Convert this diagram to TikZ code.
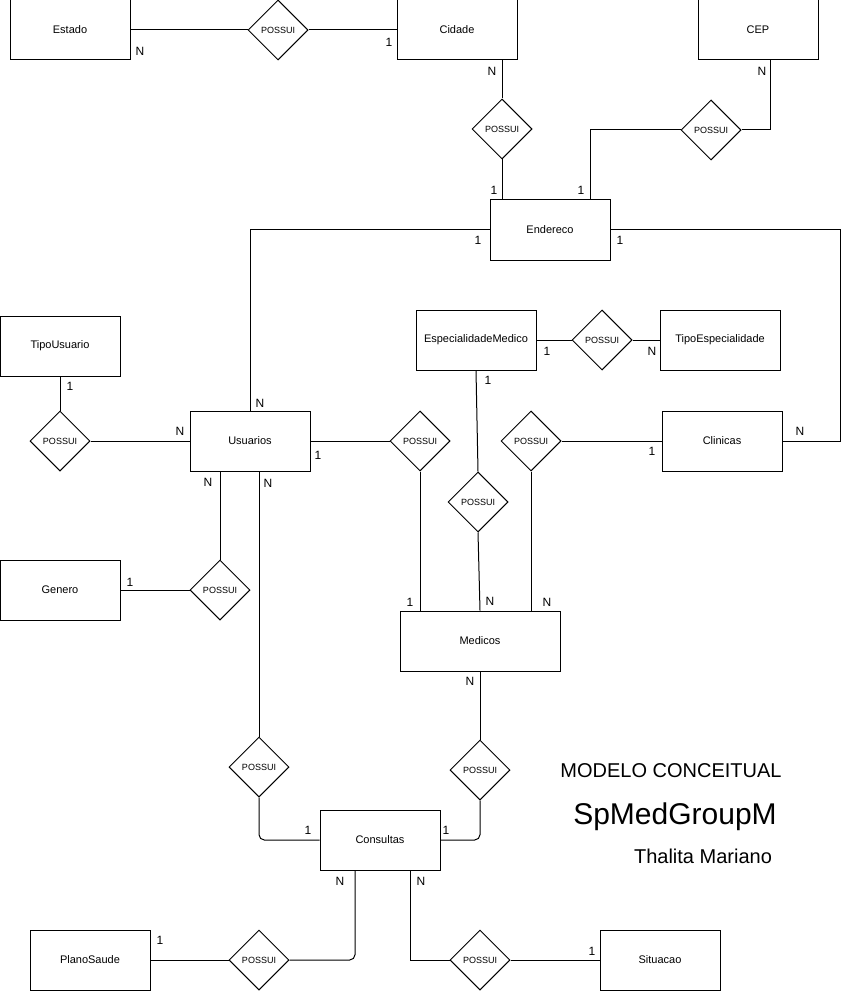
\documentclass[tikz,border=0pt]{standalone}
\usepackage{fontspec}
\setmainfont{Liberation Sans}
\usetikzlibrary{shapes.geometric,calc}
\tikzset{
  entidade/.style={draw,rectangle,minimum width=90pt,minimum height=45pt,inner sep=0pt,font=\fontsize{8.25}{10}\selectfont},
  relacao/.style={draw,diamond,aspect=1,minimum width=45pt,minimum height=45pt,inner sep=0pt,font=\fontsize{6.75}{8}\selectfont},
  card/.style={inner sep=0pt,font=\fontsize{9}{11}\selectfont},
}
\begin{document}
\begin{tikzpicture}[x=0.75pt,y=-0.75pt,line width=0.75pt]
  \useasboundingbox[fill=white] (0,0) rectangle (843,991);
  % entidades
  \node[entidade] (estado) at (70,30) {Estado};
  \node[entidade] (cidade) at (457,30) {Cidade};
  \node[entidade] (cep) at (758,30) {CEP};
  \node[entidade] (endereco) at (550,230) {Endereco};
  \node[entidade] (tipousuario) at (60,346) {TipoUsuario};
  \node[entidade] (usuarios) at (250,441) {Usuarios};
  \node[entidade] (especialidade) at (476,340) {EspecialidadeMedico};
  \node[entidade] (tipoespecialidade) at (720,340) {TipoEspecialidade};
  \node[entidade] (clinicas) at (722,441) {Clinicas};
  \node[entidade] (genero) at (60,590) {Genero};
  \node[entidade,minimum width=120pt] (medicos) at (480,641) {Medicos};
  \node[entidade] (consultas) at (380,840) {Consultas};
  \node[entidade] (planosaude) at (90,960) {PlanoSaude};
  \node[entidade] (situacao) at (660,960) {Situacao};
  % relacionamentos
  \node[relacao] (rEstCid) at (278,30) {POSSUI};
  \node[relacao] (rCidEnd) at (502,129) {POSSUI};
  \node[relacao] (rCepEnd) at (711,130) {POSSUI};
  \node[relacao] (rTipoUsu) at (60,441) {POSSUI};
  \node[relacao] (rGenUsu) at (220,590) {POSSUI};
  \node[relacao] (rUsuMed) at (420,441) {POSSUI};
  \node[relacao] (rEspMed) at (478,502) {POSSUI};
  \node[relacao] (rCliMed) at (531,441) {POSSUI};
  \node[relacao] (rEspTipo) at (602,340) {POSSUI};
  \node[relacao] (rUsuCon) at (259,767) {POSSUI};
  \node[relacao] (rMedCon) at (480,770) {POSSUI};
  \node[relacao] (rConPlano) at (259,960) {POSSUI};
  \node[relacao] (rConSit) at (480,960) {POSSUI};
  % ligacoes
  \draw (estado.east) -- (rEstCid.west);
  \draw (rEstCid.east) -- (cidade.west);
  \draw (rCidEnd.north |- cidade.south) -- (rCidEnd.north);
  \draw (rCidEnd.south) -- (rCidEnd.south |- endereco.north);
  \draw (cep.south) ++(12,0) |- (rCepEnd.east);
  \draw (rCepEnd.west) -| ($(endereco.north)+(40,0)$);
  \draw (endereco.west) -| (usuarios.north);
  \draw (endereco.east) -| ($(clinicas.east)+(58,0)$) -- (clinicas.east);
  \draw (tipousuario.south) -- (rTipoUsu.north);
  \draw (rTipoUsu.east) -- (usuarios.west);
  \draw (rGenUsu.north |- usuarios.south) -- (rGenUsu.north);
  \draw (rGenUsu.west) -- (genero.east);
  \draw (usuarios.east) -- (rUsuMed.west);
  \draw (rUsuMed.south) -- (rUsuMed.south |- medicos.north);
  \draw (especialidade.south) -- (rEspMed.north);
  \draw (rEspMed.south) -- (medicos.north);
  \draw (especialidade.east) -- (rEspTipo.west);
  \draw (rEspTipo.east) -- (tipoespecialidade.west);
  \draw (clinicas.west) -- (rCliMed.east);
  \draw (rCliMed.south) -- (rCliMed.south |- medicos.north);
  \draw (rUsuCon.north |- usuarios.south) -- (rUsuCon.north);
  \draw[rounded corners=4pt] (rUsuCon.south) |- (consultas.west);
  \draw (medicos.south) -- (rMedCon.north);
  \draw[rounded corners=4pt] (rMedCon.south) |- (consultas.east);
  \draw[rounded corners=4pt] ($(consultas.south)+(-25,0)$) |- (rConPlano.east);
  \draw (rConPlano.west) -- (planosaude.east);
  \draw ($(consultas.south)+(30,0)$) |- (rConSit.west);
  \draw (rConSit.east) -- (situacao.west);
  % cardinalidades
  \node[card] (c1) at (140,51) {N};
  \node[card] (c2) at (389,42) {1};
  \node[card] (c3) at (492,71) {N};
  \node[card] (c4) at (494,190) {1};
  \node[card] (c5) at (762,71) {N};
  \node[card] (c6) at (581,190) {1};
  \node[card] (c7) at (478,240) {1};
  \node[card] (c8) at (260,403) {N};
  \node[card] (c9) at (620,240) {1};
  \node[card] (c10) at (800,431) {N};
  \node[card] (c11) at (70,386) {1};
  \node[card] (c12) at (180,431) {N};
  \node[card] (c13) at (208,482) {N};
  \node[card] (c14) at (130,582) {1};
  \node[card] (c15) at (268,483) {N};
  \node[card] (c16) at (308,830) {1};
  \node[card] (c17) at (318,455) {1};
  \node[card] (c18) at (410,602) {1};
  \node[card] (c19) at (488,380) {1};
  \node[card] (c20) at (490,601) {N};
  \node[card] (c21) at (547,351) {1};
  \node[card] (c22) at (652,351) {N};
  \node[card] (c23) at (652,451) {1};
  \node[card] (c24) at (547,602) {N};
  \node[card] (c25) at (470,681) {N};
  \node[card] (c26) at (446,830) {1};
  \node[card] (c27) at (340,881) {N};
  \node[card] (c28) at (160,940) {1};
  \node[card] (c29) at (421,881) {N};
  \node[card] (c30) at (592,951) {1};
  % titulo
  \node[font=\fontsize{15}{18}\selectfont] (modelo) at (671,771) {MODELO CONCEITUAL};
  \node[font=\fontsize{22.5}{27}\selectfont] (projeto) at (675,817) {SpMedGroupM};
  \node[font=\fontsize{15}{18}\selectfont] (autora) at (703,856) {Thalita Mariano};
\end{tikzpicture}
\end{document}
